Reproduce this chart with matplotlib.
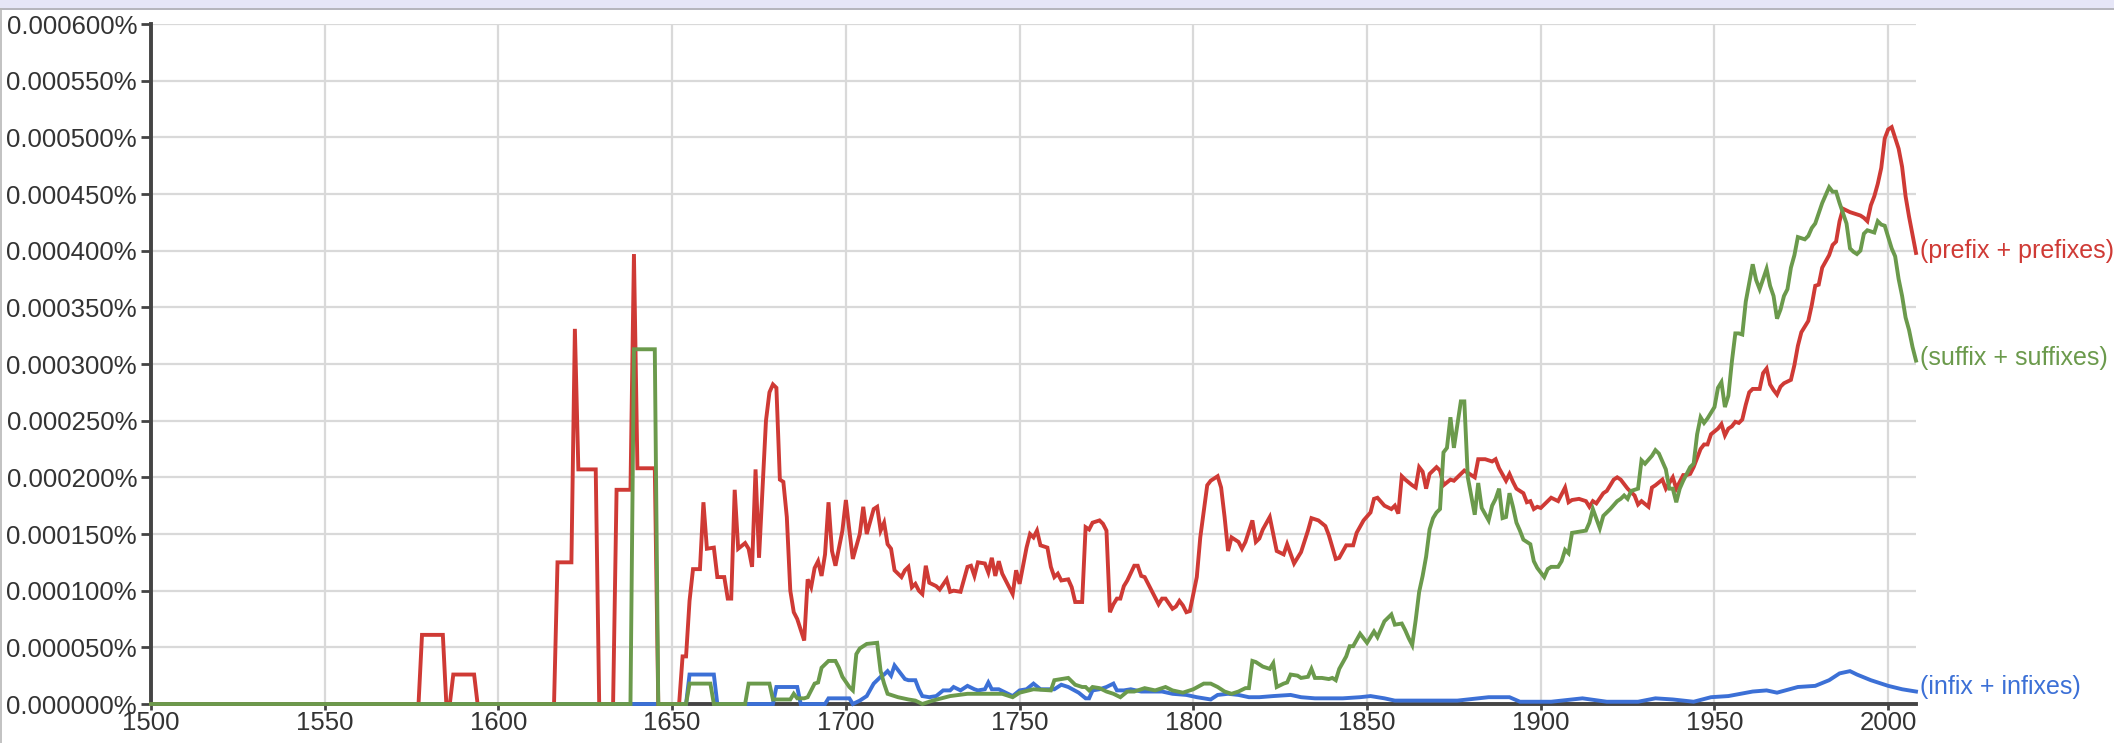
import numpy as np
import matplotlib
matplotlib.use("Agg")
import matplotlib.pyplot as plt
from matplotlib.patches import Rectangle
from matplotlib.lines import Line2D

# values are in millionths of a percent (1 unit = 0.000001%)
prefix_years = [1500, 1577, 1578, 1584, 1585, 1586, 1587, 1593, 1594, 1616, 1617, 1621, 1622, 1623, 1628, 1629,
                1633, 1634, 1638, 1639, 1640, 1645, 1646, 1652, 1653, 1654, 1655, 1656, 1658, 1659, 1660, 1662,
                1663, 1665, 1666, 1667, 1668, 1669, 1671, 1672, 1673, 1674, 1675, 1677, 1678, 1679, 1680, 1681,
                1682, 1683, 1684, 1685, 1686, 1688, 1689, 1690, 1691, 1692, 1693, 1694, 1695, 1696, 1697, 1699,
                1700, 1701, 1702, 1704, 1705, 1706, 1708, 1709, 1710, 1711, 1712, 1713, 1714, 1716, 1717, 1718,
                1719, 1720, 1721, 1722, 1723, 1724, 1726, 1727, 1729, 1730, 1731, 1733, 1735, 1736, 1737, 1738,
                1740, 1741, 1742, 1743, 1744, 1745, 1748, 1749, 1750, 1752, 1753, 1754, 1755, 1756, 1758, 1759,
                1760, 1761, 1762, 1764, 1765, 1766, 1768, 1769, 1770, 1771, 1773, 1774, 1775, 1776, 1777, 1778,
                1779, 1780, 1781, 1783, 1784, 1785, 1786, 1788, 1789, 1790, 1791, 1792, 1794, 1795, 1796, 1797,
                1798, 1799, 1801, 1802, 1804, 1805, 1807, 1808, 1809, 1810, 1811, 1813, 1814, 1815, 1817, 1818,
                1819, 1820, 1822, 1824, 1826, 1827, 1829, 1831, 1833, 1834, 1836, 1838, 1839, 1841, 1842, 1844,
                1846, 1847, 1849, 1851, 1852, 1853, 1855, 1857, 1858, 1859, 1860, 1861, 1863, 1864, 1865, 1866,
                1867, 1868, 1870, 1871, 1872, 1874, 1875, 1877, 1878, 1880, 1881, 1882, 1884, 1886, 1887, 1888,
                1890, 1891, 1892, 1893, 1895, 1896, 1897, 1898, 1899, 1900, 1902, 1903, 1905, 1907, 1908, 1909,
                1911, 1913, 1914, 1915, 1916, 1918, 1919, 1921, 1922, 1923, 1925, 1927, 1928, 1929, 1931, 1932,
                1933, 1935, 1936, 1938, 1939, 1941, 1942, 1943, 1944, 1946, 1947, 1948, 1949, 1951, 1952, 1953,
                1954, 1955, 1956, 1957, 1958, 1959, 1960, 1961, 1963, 1964, 1965, 1966, 1967, 1968, 1969, 1970,
                1972, 1973, 1974, 1975, 1977, 1978, 1979, 1980, 1981, 1983, 1984, 1985, 1986, 1987, 1989, 1990,
                1992, 1993, 1994, 1995, 1996, 1997, 1998, 1999, 2000, 2001, 2003, 2004, 2005, 2006, 2007, 2008]
prefix_vals = [0, 0, 61, 61, 0, 0, 26, 26, 0, 0, 125, 125, 331, 207, 207, 0,
               0, 189, 189, 397, 208, 208, 0, 0, 42, 42, 91, 119, 119, 178, 137, 138,
               112, 112, 93, 93, 189, 137, 142, 137, 121, 207, 129, 250, 275, 282, 279, 198,
               196, 165, 100, 81, 75, 56, 110, 103, 120, 126, 113, 132, 178, 135, 122, 153,
               180, 153, 128, 150, 174, 150, 172, 174, 153, 160, 141, 137, 118, 112, 118, 121,
               103, 106, 100, 97, 122, 107, 104, 101, 110, 99, 100, 99, 121, 122, 113, 125,
               124, 116, 129, 113, 126, 115, 97, 118, 106, 138, 150, 147, 153, 140, 138, 121,
               112, 115, 109, 110, 103, 90, 90, 156, 154, 160, 162, 159, 153, 81, 88, 93,
               93, 104, 109, 122, 122, 113, 112, 100, 94, 88, 93, 93, 84, 86, 91, 87,
               81, 82, 112, 147, 193, 197, 201, 191, 165, 135, 147, 143, 137, 143, 162, 143,
               146, 154, 165, 135, 132, 141, 124, 134, 153, 164, 162, 157, 149, 128, 129, 140,
               140, 151, 162, 169, 181, 182, 175, 172, 175, 168, 201, 198, 193, 191, 209, 205,
               190, 203, 209, 206, 193, 198, 197, 203, 206, 202, 200, 216, 216, 214, 216, 208,
               197, 203, 196, 190, 186, 178, 179, 172, 174, 173, 179, 182, 179, 191, 178, 180,
               181, 179, 174, 179, 177, 186, 188, 198, 200, 198, 190, 184, 176, 179, 174, 191,
               193, 198, 190, 200, 190, 202, 202, 203, 209, 225, 229, 229, 238, 243, 247, 237,
               243, 245, 249, 248, 251, 264, 275, 278, 278, 292, 296, 282, 277, 273, 280, 283,
               286, 299, 316, 328, 338, 352, 369, 370, 385, 396, 405, 408, 426, 437, 434, 433,
               431, 429, 426, 440, 448, 459, 473, 499, 507, 509, 490, 474, 448, 430, 414, 398]

suffix_years = [1500, 1638, 1639, 1645, 1646, 1654, 1655, 1661, 1662, 1671, 1672, 1678, 1679, 1684, 1685, 1686,
                1688, 1689, 1691, 1692, 1693, 1695, 1697, 1698, 1699, 1701, 1702, 1703, 1704, 1706, 1709, 1710,
                1711, 1712, 1715, 1718, 1720, 1722, 1725, 1730, 1735, 1740, 1745, 1748, 1750, 1754, 1759, 1760,
                1764, 1766, 1768, 1769, 1770, 1771, 1773, 1775, 1777, 1779, 1781, 1783, 1786, 1789, 1792, 1794,
                1797, 1800, 1803, 1805, 1807, 1809, 1811, 1813, 1815, 1816, 1817, 1818, 1820, 1822, 1823, 1824,
                1826, 1827, 1828, 1830, 1831, 1833, 1834, 1835, 1837, 1839, 1840, 1841, 1842, 1844, 1845, 1846,
                1848, 1849, 1850, 1852, 1853, 1855, 1857, 1858, 1860, 1861, 1862, 1863, 1864, 1865, 1866, 1867,
                1868, 1869, 1870, 1871, 1872, 1873, 1874, 1875, 1877, 1878, 1879, 1881, 1882, 1883, 1885, 1886,
                1887, 1888, 1889, 1890, 1891, 1892, 1893, 1894, 1895, 1897, 1898, 1899, 1900, 1901, 1902, 1903,
                1905, 1906, 1907, 1908, 1909, 1911, 1913, 1914, 1915, 1917, 1918, 1920, 1922, 1923, 1924, 1925,
                1926, 1928, 1929, 1930, 1932, 1933, 1934, 1936, 1937, 1938, 1939, 1940, 1941, 1943, 1944, 1945,
                1946, 1947, 1948, 1950, 1951, 1952, 1953, 1954, 1955, 1956, 1957, 1958, 1959, 1961, 1962, 1963,
                1965, 1966, 1967, 1968, 1969, 1970, 1971, 1972, 1973, 1974, 1976, 1977, 1978, 1979, 1980, 1981,
                1983, 1984, 1985, 1986, 1987, 1988, 1989, 1990, 1991, 1992, 1993, 1994, 1996, 1997, 1998, 1999,
                2001, 2002, 2003, 2004, 2005, 2006, 2007, 2008]
suffix_vals = [0, 0, 313, 313, 0, 0, 18, 18, 0, 0, 18, 18, 4, 4, 9, 5,
               5, 6, 18, 19, 32, 38, 38, 32, 24, 15, 12, 44, 49, 53, 54, 29,
               18, 9, 6, 4, 3, 0, 3, 7, 9, 9, 9, 6, 10, 13, 12, 21,
               23, 17, 15, 15, 12, 15, 14, 11, 9, 6, 11, 11, 14, 12, 15, 12,
               10, 13, 18, 18, 15, 11, 9, 11, 14, 14, 38, 37, 33, 31, 36, 15,
               18, 19, 26, 25, 23, 24, 31, 23, 23, 22, 23, 21, 31, 42, 51, 51,
               62, 58, 54, 64, 59, 73, 79, 70, 71, 65, 58, 52, 74, 99, 113, 130,
               154, 164, 169, 172, 222, 226, 253, 226, 267, 267, 200, 167, 195, 173, 162, 175,
               181, 190, 164, 165, 186, 174, 160, 153, 145, 141, 126, 120, 116, 112, 119, 121,
               121, 126, 136, 133, 151, 152, 153, 160, 172, 155, 166, 172, 179, 181, 184, 181,
               188, 190, 215, 212, 219, 224, 221, 207, 190, 190, 178, 190, 197, 209, 212, 238,
               253, 248, 252, 262, 279, 284, 262, 272, 302, 327, 327, 326, 355, 388, 374, 366,
               384, 369, 360, 340, 348, 360, 366, 385, 396, 412, 410, 413, 420, 424, 433, 442,
               456, 452, 452, 442, 433, 424, 402, 399, 397, 400, 415, 418, 416, 426, 423, 422,
               402, 395, 375, 360, 341, 330, 315, 303]

infix_years = [1500, 1654, 1655, 1662, 1663, 1679, 1680, 1686, 1687, 1694, 1695, 1701, 1702, 1704, 1706, 1708,
               1710, 1711, 1712, 1713, 1714, 1716, 1717, 1718, 1720, 1721, 1722, 1724, 1726, 1728, 1730, 1731,
               1733, 1735, 1737, 1738, 1740, 1741, 1742, 1744, 1746, 1748, 1750, 1752, 1754, 1756, 1758, 1760,
               1762, 1764, 1767, 1769, 1770, 1771, 1773, 1775, 1777, 1778, 1780, 1782, 1785, 1788, 1791, 1794,
               1798, 1801, 1805, 1807, 1810, 1813, 1816, 1819, 1823, 1828, 1831, 1835, 1843, 1848, 1851, 1855,
               1858, 1876, 1885, 1891, 1894, 1903, 1912, 1919, 1928, 1933, 1938, 1944, 1949, 1954, 1961, 1965,
               1968, 1974, 1979, 1983, 1986, 1989, 1991, 1995, 2000, 2004, 2008]
infix_vals = [0, 0, 26, 26, 0, 0, 15, 15, 0, 0, 5, 5, 0, 3, 7, 18,
              24, 26, 29, 25, 34, 26, 22, 21, 21, 13, 7, 6, 7, 12, 12, 15,
              12, 16, 13, 12, 13, 19, 13, 13, 10, 7, 12, 13, 18, 13, 13, 13,
              17, 15, 10, 5, 5, 12, 13, 15, 18, 12, 12, 13, 11, 11, 11, 9,
              8, 6, 4, 8, 9, 8, 6, 6, 7, 8, 6, 5, 5, 6, 7, 5,
              3, 3, 6, 6, 2, 2, 5, 2, 2, 5, 4, 2, 6, 7, 11, 12,
              10, 15, 16, 21, 27, 29, 26, 21, 16, 13, 11]

series_labels = ["(prefix + prefixes)", "(suffix + suffixes)", "(infix + infixes)"]
series_colors = ["#cf3a35", "#6b9a4c", "#3c70d6"]
label_values = [400, 305, 15]

x_ticks = [1500, 1550, 1600, 1650, 1700, 1750, 1800, 1850, 1900, 1950, 2000]
y_ticks = [0, 50, 100, 150, 200, 250, 300, 350, 400, 450, 500, 550, 600]

UNIT = 1e-6  # one unit = 0.000001 %

plt.rcParams['font.family'] = ['Liberation Sans', 'DejaVu Sans']

fig = plt.figure(figsize=(21.14, 7.43), dpi=100)
fig.patch.set_facecolor("white")
# top band and borders of the screenshot
fig.patches.append(Rectangle((0, 1 - 8 / 743), 1, 8 / 743, transform=fig.transFigure,
                             facecolor="#e6e6f7", edgecolor="none", zorder=0))
fig.lines.append(Line2D([0, 1], [1 - 9 / 743, 1 - 9 / 743], transform=fig.transFigure,
                        color="#a8a8b0", lw=1.2))
fig.lines.append(Line2D([1 / 2114, 1 / 2114], [0, 1 - 9 / 743], transform=fig.transFigure,
                        color="#b8b8b8", lw=1.2))

ax = fig.add_axes([151 / 2114, 1 - 704 / 743, (1916 - 151) / 2114, (704 - 24) / 743])

# drawing order: blue, red, then green on top
for yrs, vals, col, z in [(infix_years, infix_vals, series_colors[2], 3),
                          (prefix_years, prefix_vals, series_colors[0], 4),
                          (suffix_years, suffix_vals, series_colors[1], 5)]:
    ax.plot(yrs, np.array(vals) * UNIT, color=col, lw=2.8, solid_joinstyle="miter", zorder=z, clip_on=False)

for lab, lv, col in zip(series_labels, label_values, series_colors):
    ax.annotate(lab, xy=(2008, lv * UNIT), xytext=(4, 0), textcoords="offset pixels",
                va="center", ha="left", color=col, fontsize=18, annotation_clip=False)

ax.set_xlim(1500, 2008)
ax.set_ylim(0, 600 * UNIT)
ax.set_xticks(x_ticks)
ax.set_xticklabels([str(t) for t in x_ticks])
ax.set_yticks([t * UNIT for t in y_ticks])
ax.set_yticklabels(["%.6f%%" % (t * UNIT) for t in y_ticks])

ax.grid(True, color="#d9d9d9", lw=1.6, zorder=0)
ax.set_axisbelow(True)
for s in ["top", "right"]:
    ax.spines[s].set_visible(False)
for s in ["left", "bottom"]:
    ax.spines[s].set_color("#444444")
    ax.spines[s].set_linewidth(2.8)
    ax.spines[s].set_zorder(2.5)
ax.tick_params(axis="y", direction="out", length=7, width=2, color="#444444",
               labelsize=18.5, labelcolor="#333333", pad=3)
ax.tick_params(axis="x", direction="out", length=4, width=2, color="#444444",
               labelsize=18.5, labelcolor="#333333", pad=1)

fig.savefig("out.png", dpi=100, facecolor="white")
